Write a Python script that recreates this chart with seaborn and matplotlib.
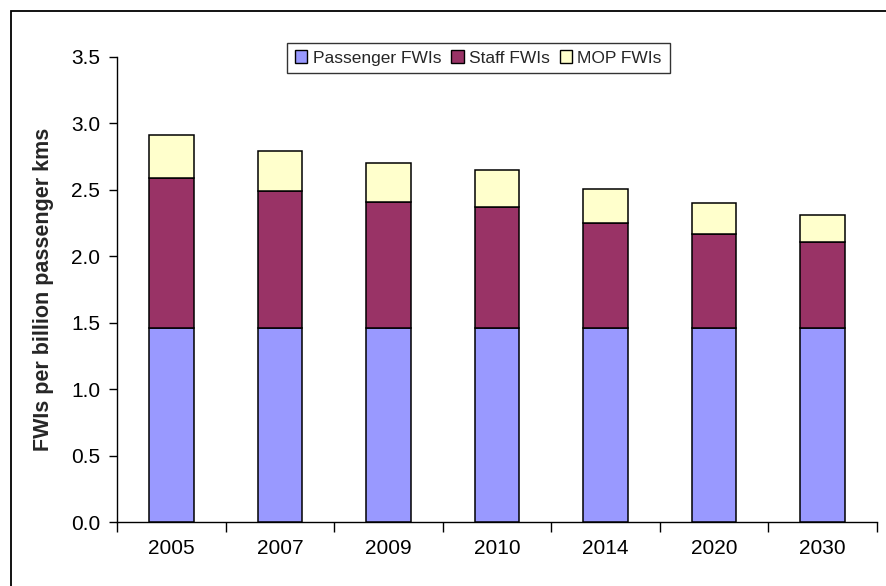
import matplotlib
matplotlib.use("Agg")
import matplotlib.pyplot as plt
from matplotlib.patches import Rectangle
import seaborn as sns
import numpy as np
import pandas as pd

# Fatalities and weighted injuries per billion passenger km, by year
years = ["2005", "2007", "2009", "2010", "2014", "2020", "2030"]
passenger_fwis = [1.46, 1.46, 1.46, 1.46, 1.46, 1.46, 1.46]
staff_fwis = [1.13, 1.03, 0.95, 0.91, 0.79, 0.71, 0.65]
mop_fwis = [0.32, 0.30, 0.29, 0.28, 0.26, 0.23, 0.20]

series_names = ["Passenger FWIs", "Staff FWIs", "MOP FWIs"]
series_colors = ["#9999FF", "#993366", "#FFFFCC"]

sns.set_theme(style="white")
plt.rcParams["font.family"] = ["Liberation Sans", "DejaVu Sans"]

fig = plt.figure(figsize=(8.86, 5.86), dpi=100)
ax = fig.add_axes([117 / 886, 64 / 586, 760 / 886, 465 / 586])

df = pd.DataFrame({"year": years, "Passenger FWIs": passenger_fwis,
                   "Staff FWIs": staff_fwis, "MOP FWIs": mop_fwis})

bottom = np.zeros(len(years))
for name, color in zip(series_names, series_colors):
    sns.barplot(data=df, x="year", y=name, order=years, color=color,
                saturation=1, bottom=bottom, width=0.41, edgecolor="black",
                linewidth=1.1, label=name, ax=ax, zorder=3)
    bottom = bottom + df[name].to_numpy()

ax.set_xlim(-0.5, len(years) - 0.5)
ax.set_ylim(0, 3.5)
ax.set_yticks(np.arange(0, 3.51, 0.5))
ax.set_yticklabels([f"{v:.1f}" for v in np.arange(0, 3.51, 0.5)])
ax.set_xlabel("")
ax.set_ylabel("FWIs per billion passenger kms", fontsize=15.5, fontweight="bold",
              labelpad=12)

# category boundary ticks on the x axis
ax.set_xticks(np.arange(-0.5, len(years), 1.0), minor=True)
ax.tick_params(axis="x", which="major", length=0, pad=12, labelsize=15,
               colors="black")
ax.tick_params(axis="x", which="minor", bottom=True, length=7, width=1,
               color="black", direction="out")
ax.tick_params(axis="y", left=True, length=6, width=1, color="black",
               direction="out", pad=6, labelsize=15, labelcolor="black")

for side in ["top", "right"]:
    ax.spines[side].set_visible(False)
for side in ["left", "bottom"]:
    ax.spines[side].set_color("black")
    ax.spines[side].set_linewidth(1)

leg = ax.legend(loc="center", bbox_to_anchor=(0.4757, 0.998), ncol=3,
                frameon=True, fancybox=False, shadow=False, fontsize=12.5,
                handlelength=0.7, handleheight=0.7, handletextpad=0.3,
                columnspacing=0.6, borderpad=0.45)
leg.get_frame().set_edgecolor("black")
leg.get_frame().set_linewidth(1)
for h in leg.legend_handles:
    h.set_edgecolor("black")
    h.set_linewidth(1)

# outer chart frame
fig.patches.append(Rectangle((11 / 886, -0.1), 1.2, 1.1 - 11 / 586,
                             transform=fig.transFigure, fill=False,
                             edgecolor="black", linewidth=1.3))

fig.savefig("out.png", dpi=100)
